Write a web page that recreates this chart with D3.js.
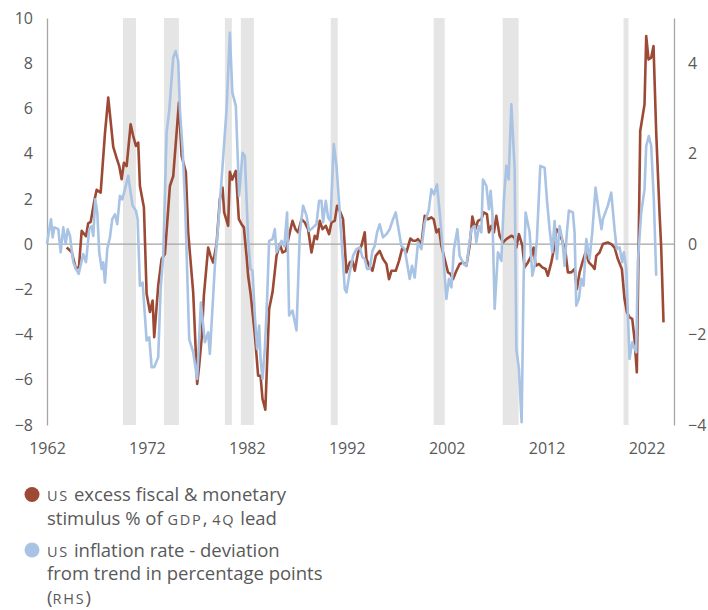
<!DOCTYPE html>
<html>
<head>
<meta charset="utf-8">
<script src="https://cdn.jsdelivr.net/npm/d3@7"></script>
<style>
  html, body { margin: 0; padding: 0; background: #fff; }
  #chart { width: 708px; height: 610px; }
  text { font-family: "Open Sans", "Noto Sans", sans-serif; }
</style>
</head>
<body>
<div id="chart"></div>
<script>
// US excess fiscal & monetary stimulus, % of GDP, 4Q lead (left axis) [year, value]
const stimulus = [
  [1963.97, -0.15], [1964.47, -0.35], [1964.9, -1.1], [1965.2, -1.0], [1965.47, 0.59],
  [1965.9, 0.35], [1966.13, 0.93], [1966.37, 0.98], [1966.73, 1.9], [1966.97, 2.4],
  [1967.37, 2.28], [1967.8, 4.9], [1968.13, 6.48], [1968.47, 5.0], [1968.63, 4.3],
  [1968.97, 3.8], [1969.23, 3.45], [1969.47, 2.87], [1969.7, 3.6], [1969.97, 3.45],
  [1970.37, 5.3], [1970.63, 4.78], [1970.9, 4.34], [1971.13, 4.49], [1971.3, 2.57],
  [1971.7, 1.62], [1971.97, -2.2], [1972.3, -3.0], [1972.57, -2.5], [1972.73, -4.12],
  [1973.13, -1.84], [1973.47, -0.66], [1973.8, -0.44], [1974.13, 1.55], [1974.3, 2.57],
  [1974.63, 3.0], [1974.97, 4.93], [1975.2, 6.26], [1975.47, 3.9], [1975.9, 3.17],
  [1976.13, 0.52], [1976.63, -2.13], [1977.03, -6.18], [1977.23, -5.37], [1977.47, -4.2],
  [1977.7, -2.28], [1978.13, -0.15], [1978.37, -0.52], [1978.63, -0.81], [1978.97, 0.0],
  [1979.3, 1.99], [1979.57, 2.5], [1979.73, 1.4], [1980.13, 0.81], [1980.3, 3.2],
  [1980.53, 2.85], [1980.9, 3.24], [1981.2, 1.1], [1981.47, 0.88], [1981.7, 0.74],
  [1981.97, -0.52], [1982.13, -1.4], [1982.4, -2.28], [1982.8, -4.0], [1983.13, -5.82],
  [1983.37, -5.82], [1983.57, -6.85], [1983.85, -7.32], [1984.23, -2.87], [1984.57, -2.13],
  [1984.97, -0.52], [1985.3, 0.0], [1985.57, -0.37], [1985.9, -0.3], [1986.3, 0.52],
  [1986.57, 1.03], [1986.87, 0.66], [1987.13, 0.52], [1987.47, 1.1], [1987.8, 0.96],
  [1988.13, 0.66], [1988.47, -0.37], [1988.8, 0.37], [1989.03, 0.22], [1989.3, 1.03],
  [1989.57, 0.66], [1989.9, 0.81], [1990.23, 0.44], [1990.47, 0.96], [1990.8, 1.03],
  [1991.03, 1.69], [1991.37, 1.4], [1991.63, 1.1], [1991.97, -1.25], [1992.3, -0.81],
  [1992.57, -0.74], [1992.8, -1.18], [1993.13, -0.37], [1993.47, -0.07], [1993.8, 0.52],
  [1993.97, -0.66], [1994.23, -0.96], [1994.57, -1.18], [1994.9, -0.52], [1995.3, -0.3],
  [1995.63, -0.66], [1995.97, -0.88], [1996.23, -1.55], [1996.47, -1.18], [1996.9, -1.18],
  [1997.23, -0.74], [1997.57, -0.15], [1997.97, -0.37], [1998.37, 0.25], [1998.63, 0.15],
  [1998.9, 0.15], [1999.13, 0.22], [1999.47, 0.0], [1999.8, 1.25], [2000.13, 1.1],
  [2000.47, 1.18], [2000.7, 1.1], [2000.97, 0.52], [2001.23, 0.66], [2001.47, -0.07],
  [2001.8, -0.66], [2002.13, -1.25], [2002.37, -1.32], [2002.63, -1.55], [2002.97, -1.18],
  [2003.3, -0.88], [2003.63, -0.81], [2003.97, -0.96], [2004.3, -0.07], [2004.57, 1.22],
  [2004.87, 0.66], [2005.13, 1.03], [2005.47, 1.1], [2005.7, 1.4], [2006.03, 1.32],
  [2006.23, 0.52], [2006.47, 0.81], [2006.73, 0.52], [2006.97, 1.25], [2007.3, 0.37],
  [2007.63, 0.07], [2007.97, 0.22], [2008.23, 0.3], [2008.47, 0.37], [2008.8, 0.29],
  [2008.97, -0.15], [2009.23, 0.44], [2009.57, -0.07], [2009.8, -1.03], [2010.13, -0.81],
  [2010.47, -0.52], [2010.7, -0.15], [2010.9, -0.96], [2011.23, -0.88], [2011.57, -1.03],
  [2011.9, -1.1], [2012.13, -1.4], [2012.47, -0.81], [2012.73, -0.22], [2012.97, 0.66],
  [2013.23, 0.52], [2013.57, 0.15], [2013.9, -0.37], [2014.13, -1.25], [2014.47, -1.25],
  [2014.8, -1.1], [2015.03, -1.99], [2015.3, -1.25], [2015.63, -0.74], [2015.9, -0.37],
  [2016.23, -0.81], [2016.57, -0.96], [2016.8, -1.1], [2016.97, -0.52], [2017.3, -0.37],
  [2017.63, 0.0], [2018.13, 0.07], [2018.47, 0.0], [2018.8, -0.15], [2019.13, -0.66],
  [2019.53, -1.1], [2019.8, -2.43], [2020.03, -3.0], [2020.3, -3.24], [2020.57, -3.31],
  [2020.8, -4.2], [2021.03, -5.67], [2021.37, 5.0], [2021.8, 6.18], [2021.97, 9.2],
  [2022.2, 8.17], [2022.47, 8.25], [2022.7, 8.76], [2022.97, 4.93], [2023.3, 1.4],
  [2023.47, -0.15], [2023.7, -3.46]
];

// US inflation rate, deviation from trend in percentage points (right axis) [year, value]
const inflation = [
  [1962.0, 0.0], [1962.23, 0.33], [1962.4, 0.55], [1962.57, 0.15], [1962.73, 0.37],
  [1963.13, 0.33], [1963.37, -0.18], [1963.63, 0.37], [1963.87, 0.0], [1964.07, 0.33],
  [1964.3, 0.18], [1964.63, -0.4], [1964.9, -0.55], [1965.17, -0.66], [1965.4, -0.44],
  [1965.63, -0.22], [1965.9, -0.4], [1966.23, 0.33], [1966.47, 0.4], [1966.63, 0.18],
  [1966.83, 0.99], [1967.03, 0.7], [1967.23, -0.18], [1967.47, -0.55], [1967.63, -0.4],
  [1967.8, -0.85], [1968.03, -0.11], [1968.3, 0.15], [1968.53, 0.55], [1968.8, 0.66],
  [1969.03, 0.44], [1969.3, 1.07], [1969.53, 0.99], [1969.8, 1.21], [1970.13, 1.51],
  [1970.37, 1.14], [1970.57, 0.85], [1970.9, 0.74], [1971.07, 0.55], [1971.3, -0.92],
  [1971.57, -0.85], [1971.97, -2.13], [1972.23, -2.06], [1972.47, -2.72], [1972.73, -2.72],
  [1973.13, -2.5], [1973.37, -0.99], [1973.63, -0.26], [1973.97, 2.47], [1974.23, 2.94],
  [1974.63, 4.12], [1974.87, 4.27], [1975.13, 4.05], [1975.3, 2.98], [1975.57, 2.1],
  [1975.83, 0.85], [1976.23, -2.1], [1976.63, -2.39], [1977.03, -2.98], [1977.4, -1.29],
  [1977.8, -2.17], [1978.13, -1.95], [1978.3, -2.43], [1978.8, -0.48], [1979.13, 0.4],
  [1979.57, 1.73], [1979.97, 2.98], [1980.3, 4.67], [1980.55, 3.35], [1980.9, 3.05],
  [1981.23, 1.07], [1981.57, 2.02], [1981.8, 1.95], [1982.13, 0.11], [1982.37, -0.55],
  [1982.57, -0.59], [1982.8, -1.58], [1983.03, -2.32], [1983.23, -1.8], [1983.37, -2.54],
  [1983.57, -2.98], [1983.8, -2.32], [1984.03, -1.21], [1984.23, 0.07], [1984.57, 0.11],
  [1984.8, 0.33], [1984.97, -0.18], [1985.47, 0.07], [1985.75, -0.05], [1986.03, 0.7],
  [1986.23, -1.58], [1986.57, -1.47], [1986.97, -1.91], [1987.3, 0.26], [1987.63, 0.85],
  [1987.97, 0.63], [1988.23, 0.29], [1988.63, 0.37], [1988.97, 0.44], [1989.23, 0.96],
  [1989.47, 0.96], [1989.63, 0.48], [1989.9, 0.96], [1990.13, 0.59], [1990.37, 0.51],
  [1990.7, 2.21], [1990.97, 1.73], [1991.3, 0.7], [1991.8, -0.99], [1991.97, -1.07],
  [1992.3, -0.62], [1992.63, -0.26], [1992.97, -0.11], [1993.3, -0.07], [1993.57, -0.29],
  [1993.8, -0.33], [1994.03, -0.55], [1994.3, -0.55], [1994.57, -0.15], [1994.8, -0.04],
  [1995.03, 0.26], [1995.3, 0.44], [1995.63, 0.15], [1995.97, 0.22], [1996.3, 0.33],
  [1996.63, 0.55], [1996.9, 0.7], [1997.13, 0.4], [1997.47, -0.04], [1997.8, -0.11],
  [1998.3, -0.77], [1998.53, -0.48], [1998.8, -0.74], [1999.13, 0.04], [1999.47, -0.11],
  [1999.8, 0.48], [2000.2, 0.74], [2000.47, 1.21], [2000.73, 1.1], [2001.03, 1.32],
  [2001.3, 0.7], [2001.63, -0.18], [2001.97, -1.21], [2002.23, -0.77], [2002.47, -0.96],
  [2002.73, -0.11], [2003.07, 0.33], [2003.3, -0.26], [2003.73, -0.45], [2003.97, -0.48],
  [2004.47, 0.33], [2004.8, 0.4], [2004.97, 0.04], [2005.23, 0.4], [2005.47, 0.26],
  [2005.63, 1.43], [2005.97, 1.29], [2006.23, 0.77], [2006.4, 1.18], [2006.57, 0.7],
  [2006.8, -1.43], [2007.13, -0.18], [2007.47, -0.37], [2007.73, 0.99], [2007.97, 1.73],
  [2008.2, 1.43], [2008.47, 3.09], [2008.8, 1.66], [2008.97, -2.32], [2009.23, -2.76],
  [2009.5, -3.94], [2009.7, -0.77], [2009.9, 0.7], [2010.3, 0.26], [2010.57, -0.7],
  [2010.8, -0.48], [2011.03, 0.11], [2011.37, 1.73], [2011.8, 1.69], [2012.03, 0.99],
  [2012.3, 0.33], [2012.57, -0.18], [2012.8, 0.51], [2013.03, -0.33], [2013.3, 0.4],
  [2013.57, 0.11], [2013.8, -0.48], [2014.03, 0.26], [2014.23, 0.74], [2014.63, 0.7],
  [2014.8, 0.26], [2014.97, -1.36], [2015.23, -1.21], [2015.47, -0.77], [2015.7, -0.92],
  [2015.97, 0.11], [2016.3, -0.33], [2016.57, 0.26], [2016.9, 1.25], [2017.23, 0.7],
  [2017.5, 0.33], [2017.63, 0.55], [2018.13, 0.85], [2018.47, 1.14], [2018.8, 0.33],
  [2019.03, -0.11], [2019.3, -0.07], [2019.57, -0.4], [2019.73, -0.18], [2019.97, -0.55],
  [2020.3, -2.54], [2020.57, -2.17], [2020.97, -2.39], [2021.13, -0.4], [2021.47, 0.7],
  [2021.8, 1.21], [2021.97, 2.17], [2022.23, 2.39], [2022.47, 2.17], [2022.73, 0.99],
  [2022.97, -0.7]
];

// US recessions, shaded [start, end]
const recessions = [
  [1969.6, 1970.9], [1973.7, 1975.2], [1979.8, 1980.5], [1981.4, 1982.7],
  [1990.4, 1991.1], [2000.7, 2001.8], [2007.6, 2009.2], [2019.7, 2020.2]
];

const yearTicks = [1962, 1972, 1982, 1992, 2002, 2012, 2022];
const leftTicks = [10, 8, 6, 4, 2, 0, -2, -4, -6, -8];
const rightTicks = [4, 2, 0, -2, -4];

// legend text, split in lines; second flag marks small-caps parts
const legendItems = [
  { color: "#9c4a35", lines: [
      [["US", true], [" excess fiscal & monetary", false]],
      [["stimulus % of ", false], ["GDP", true], [", ", false], ["4Q", true], [" lead", false]]
  ]},
  { color: "#a9c3e4", lines: [
      [["US", true], [" inflation rate - deviation", false]],
      [["from trend in percentage points", false]],
      [["(", false], ["RHS", true], [")", false]]
  ]}
];

function drawChart() {
  const W = 708, H = 610;
  const margin = { top: 18, right: 34, bottom: 185, left: 47 };
  const width = W - margin.left - margin.right;
  const height = H - margin.top - margin.bottom;

  const svg = d3.select("#chart").append("svg")
    .attr("width", W).attr("height", H)
    .attr("viewBox", `0 0 ${W} ${H}`);

  const g = svg.append("g").attr("transform", `translate(${margin.left},${margin.top})`);

  const x = d3.scaleLinear().domain([1962, 2024.75]).range([0, width]);
  const yL = d3.scaleLinear().domain([-8, 10]).range([height, 0]);
  const yR = d3.scaleLinear().domain([-4, 5]).range([height, 0]);

  // recession shading
  g.selectAll("rect.rec")
    .data(recessions)
    .enter().append("rect")
    .attr("class", "rec")
    .attr("x", d => x(d[0]))
    .attr("width", d => x(d[1]) - x(d[0]))
    .attr("y", 0)
    .attr("height", height)
    .attr("fill", "#e5e5e5");

  // zero line
  g.append("line")
    .attr("x1", 0).attr("x2", width)
    .attr("y1", yL(0)).attr("y2", yL(0))
    .attr("stroke", "#a3a3a3").attr("stroke-width", 1.3);

  // left axis
  const axL = g.append("g")
    .call(d3.axisLeft(yL).tickValues(leftTicks).tickSize(0).tickPadding(14));
  axL.select(".domain").attr("stroke", "#a6a6a6").attr("stroke-width", 1.3);
  axL.selectAll("text").attr("fill", "#595959").style("font-size", "16px");

  // right axis
  const axR = g.append("g")
    .attr("transform", `translate(${width},0)`)
    .call(d3.axisRight(yR).tickValues(rightTicks).tickSize(0).tickPadding(14));
  axR.select(".domain").attr("stroke", "#a6a6a6").attr("stroke-width", 1.3);
  axR.selectAll("text").attr("fill", "#595959").style("font-size", "16px");

  // bottom axis (labels only)
  const axB = g.append("g")
    .attr("transform", `translate(0,${height})`)
    .call(d3.axisBottom(x).tickValues(yearTicks).tickFormat(d3.format("d")).tickSize(0).tickPadding(18));
  axB.select(".domain").remove();
  axB.selectAll("text").attr("fill", "#595959").style("font-size", "16px");

  // lines
  const lineL = d3.line().x(d => x(d[0])).y(d => yL(d[1]));
  const lineR = d3.line().x(d => x(d[0])).y(d => yR(d[1]));

  g.append("path")
    .datum(stimulus)
    .attr("d", lineL)
    .attr("fill", "none")
    .attr("stroke", legendItems[0].color)
    .attr("stroke-width", 2.6)
    .attr("stroke-linejoin", "round");

  g.append("path")
    .datum(inflation)
    .attr("d", lineR)
    .attr("fill", "none")
    .attr("stroke", legendItems[1].color)
    .attr("stroke-width", 2.6)
    .attr("stroke-linejoin", "round");

  // legend
  const lineH = 23.5;
  const legend = svg.append("g").attr("transform", "translate(32,0)");
  let yPos = 501;
  legendItems.forEach(item => {
    legend.append("circle")
      .attr("cx", 0).attr("cy", yPos - 6.5)
      .attr("r", 7.5)
      .attr("fill", item.color);
    item.lines.forEach(parts => {
      const t = legend.append("text")
        .attr("x", 15).attr("y", yPos)
        .attr("fill", "#595959")
        .style("font-size", "18.5px");
      parts.forEach(([str, caps]) => {
        const ts = t.append("tspan").text(str);
        if (caps) ts.style("font-size", "14.5px").style("letter-spacing", "1.8px");
      });
      yPos += lineH;
    });
    yPos += 8.5;
  });
}

drawChart();
</script>
</body>
</html>
